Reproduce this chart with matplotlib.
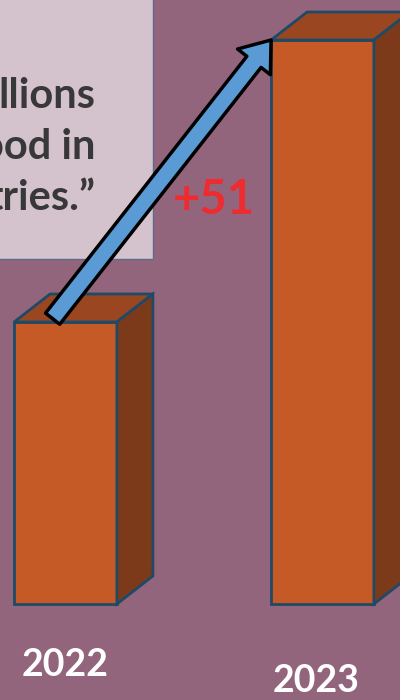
import matplotlib.pyplot as plt
from matplotlib.patches import Polygon, Rectangle, FancyArrowPatch

years = ['2022', '2023']
values = [51, 102]
change_label = '+51'
quote_lines = ['llions', 'ood in', 'tries.\u201d']

bg = '#93657D'
front = '#C55A27'
top_c = '#9A4620'
side_c = '#7D3A1B'
edge = '#1F4A66'

fig = plt.figure(figsize=(4, 7), dpi=100, facecolor=bg)
ax = fig.add_axes([0, 0, 1, 1])
ax.set_facecolor(bg)
ax.axis('off')

# pixel mapping: y=0 at px 604, 102 at px 40 ; x=0 at px 65.5, 257 px per unit
ppu_y = 564 / 102
ax.set_ylim(-96 / ppu_y, 604 / ppu_y)
ax.set_xlim(-65.5 / 257, (400 - 65.5) / 257)

# quote box (figure pixels), below bars and arrow
ax.add_patch(Rectangle((-2 / 400, 1 - 259 / 700), 155 / 400, 262 / 700,
                       transform=fig.transFigure, facecolor='#D4C2CC',
                       edgecolor='#5E6C8C', lw=1, zorder=0.5, clip_on=False))
for i, line in enumerate(quote_lines):
    ax.text(95 / 400, 1 - (108 + 51 * i) / 700, line, ha='right', va='baseline',
            transform=fig.transFigure, fontsize=30, fontweight='bold',
            family='Lato', color='#383838', zorder=0.6)

x = [0, 1]
w = 0.4
dx = 36 / 257
dy = 28 / ppu_y
bars = ax.bar(x, values, width=w, color=front, edgecolor=edge, lw=2, zorder=2)
for r in bars:
    x0, h = r.get_x(), r.get_height()
    ax.add_patch(Polygon([(x0, h), (x0 + dx, h + dy), (x0 + w + dx, h + dy), (x0 + w, h)],
                         closed=True, facecolor=top_c, edgecolor=edge, lw=2, zorder=2))
    ax.add_patch(Polygon([(x0 + w, 0), (x0 + w, h), (x0 + w + dx, h + dy), (x0 + w + dx, dy)],
                         closed=True, facecolor=side_c, edgecolor=edge, lw=2, zorder=2))

arrow = FancyArrowPatch((x[0] - 0.05, values[0] + 0.6), (x[1] - w / 2, values[1]),
                        arrowstyle='simple,head_length=20,head_width=30,tail_width=13',
                        mutation_scale=1, shrinkA=0, shrinkB=0,
                        facecolor='#5B9BD5', edgecolor='black', lw=2.5, zorder=5)
ax.add_patch(arrow)

ax.text(0.578, 73, change_label, ha='center', va='center', fontsize=34,
        fontweight='bold', family='Lato', color='#EE2B2F', zorder=1)

ax.text(x[0], -11.0, years[0], ha='center', va='center', fontsize=27,
        fontweight='bold', family='Lato', color='white')
ax.text(x[1] - 0.025, -14.0, years[1], ha='center', va='center', fontsize=27,
        fontweight='bold', family='Lato', color='white')

fig.savefig('out.png', dpi=100, facecolor=bg)
